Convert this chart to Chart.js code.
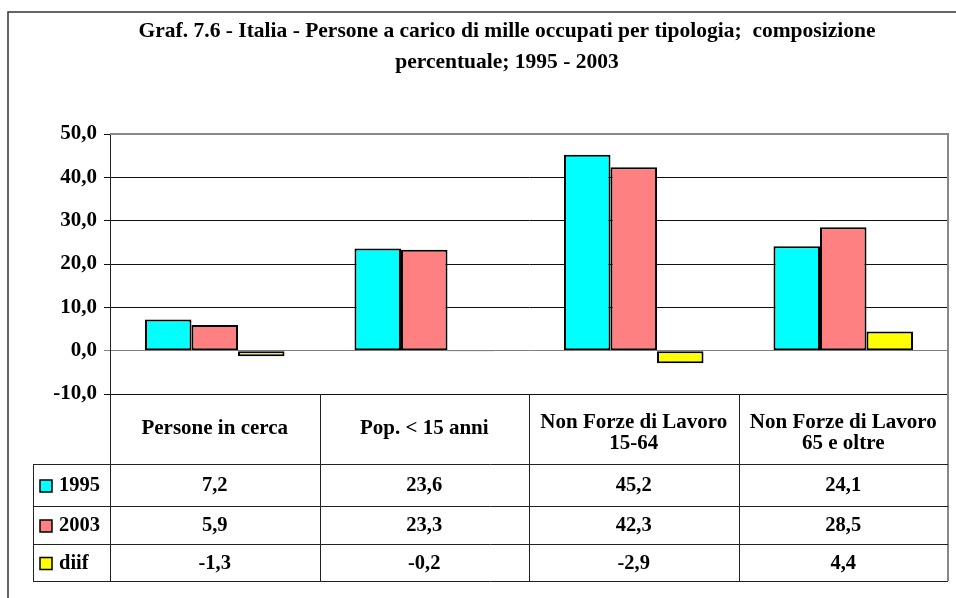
<!DOCTYPE html>
<html>
<head>
<meta charset="utf-8">
<script src="https://cdn.jsdelivr.net/npm/chart.js@4.4.1/dist/chart.umd.min.js"></script>
<style>
  html, body { margin: 0; padding: 0; background: #fff; }
  #chart { display: block; }
</style>
</head>
<body>
<canvas id="chart" width="956" height="598"></canvas>
<script>
// Data
const categories = ["Persone in cerca", "Pop. < 15 anni", ["Non Forze di Lavoro", "15-64"], ["Non Forze di Lavoro", "65 e oltre"]];
const seriesNames = ["1995", "2003", "diif"];
const values1995 = [7.2, 23.6, 45.2, 24.1];
const values2003 = [5.9, 23.3, 42.3, 28.5];
const valuesDiif = [-1.3, -0.2, -2.9, 4.4];
const yMin = -10, yMax = 50, yStep = 10;
const titleLines = ["Graf. 7.6 - Italia - Persone a carico di mille occupati per tipologia;  composizione", "percentuale; 1995 - 2003"];

const colors = ["#00ffff", "#ff8080", "#ffff00"];
const FONT = "'Liberation Serif', 'Times New Roman', serif";

// comma decimals, one digit
function fmt(v) {
  return v.toFixed(1).replace(".", ",");
}

// ===== Frame, title and data table under the plot =====
const tablePlugin = {
  id: "dataTable",
  afterDraw(chart) {
    const ctx = chart.ctx;
    const area = chart.chartArea;
    const x = chart.scales.x;
    const n = categories.length;
    const colW = (area.right - area.left) / n;
    const legendLeft = 33;
    const headerBottom = 464;
    const rowBottoms = [506, 544, 581];
    const seriesValues = [values1995, values2003, valuesDiif];

    ctx.save();

    // outer frame
    ctx.strokeStyle = "#333";
    ctx.lineWidth = 1.5;
    ctx.beginPath();
    ctx.moveTo(8, 700);
    ctx.lineTo(8, 12);
    ctx.lineTo(1000, 12);
    ctx.stroke();

    // title
    ctx.fillStyle = "#000";
    ctx.font = "bold 21.5px " + FONT;
    ctx.textAlign = "center";
    ctx.textBaseline = "middle";
    ctx.fillText(titleLines[0], 507, 31);
    ctx.fillText(titleLines[1], 507, 62);

    // plot border (top and right)
    ctx.strokeStyle = "#888";
    ctx.lineWidth = 2;
    ctx.beginPath();
    ctx.moveTo(area.left, area.top);
    ctx.lineTo(area.right, area.top);
    ctx.lineTo(area.right, rowBottoms[2]);
    ctx.stroke();

    // table lines
    ctx.strokeStyle = "#222";
    ctx.lineWidth = 1;
    ctx.beginPath();
    // left axis continues down the table
    ctx.moveTo(area.left + 0.5, area.bottom);
    ctx.lineTo(area.left + 0.5, rowBottoms[2]);
    for (let i = 1; i < n; i++) {
      const cx = Math.round(area.left + i * colW) + 0.5;
      ctx.moveTo(cx, area.bottom);
      ctx.lineTo(cx, rowBottoms[2]);
    }
    // header bottom and row lines
    [headerBottom].concat(rowBottoms).forEach(y => {
      ctx.moveTo(legendLeft, y + 0.5);
      ctx.lineTo(area.right, y + 0.5);
    });
    // legend column left edge
    ctx.moveTo(legendLeft + 0.5, headerBottom);
    ctx.lineTo(legendLeft + 0.5, rowBottoms[2]);
    ctx.stroke();

    // header labels
    ctx.fillStyle = "#000";
    ctx.font = "bold 21px " + FONT;
    ctx.textAlign = "center";
    ctx.textBaseline = "middle";
    categories.forEach((label, i) => {
      const cx = x.getPixelForValue(i);
      const lines = Array.isArray(label) ? label : [label];
      const mid = (area.bottom + headerBottom) / 2 + (lines.length > 1 ? 4 : 0);
      const lh = 21;
      lines.forEach((t, j) => {
        ctx.fillText(t, cx, mid + (j - (lines.length - 1) / 2) * lh);
      });
    });

    // value rows with legend keys
    let top = headerBottom;
    seriesValues.forEach((vals, r) => {
      const bottom = rowBottoms[r];
      const cy = (top + bottom) / 2 + 1;
      // legend swatch
      ctx.fillStyle = colors[r];
      ctx.fillRect(40, cy - 6, 12, 12);
      ctx.strokeStyle = "#000";
      ctx.lineWidth = 1.5;
      ctx.strokeRect(40, cy - 6, 12, 12);
      ctx.fillStyle = "#000";
      ctx.font = "bold 20.5px " + FONT;
      ctx.textAlign = "left";
      ctx.fillText(seriesNames[r], 59, cy);
      ctx.textAlign = "center";
      vals.forEach((v, i) => {
        ctx.fillText(fmt(v), x.getPixelForValue(i), cy);
      });
      top = bottom;
    });

    ctx.restore();
  }
};

const datasets = [values1995, values2003, valuesDiif].map((vals, i) => ({
  label: seriesNames[i],
  data: vals,
  backgroundColor: colors[i],
  borderColor: "#000",
  borderWidth: 2,
  borderSkipped: false,
  barPercentage: 1.0,
  categoryPercentage: 0.666
}));

new Chart(document.getElementById("chart"), {
  type: "bar",
  data: { labels: categories, datasets: datasets },
  options: {
    responsive: false,
    animation: false,
    layout: { padding: { left: 0, right: 8, top: 134, bottom: 204 } },
    plugins: {
      legend: { display: false },
      title: { display: false },
      tooltip: { enabled: false }
    },
    scales: {
      x: { display: false },
      y: {
        min: yMin,
        max: yMax,
        afterFit(scale) { scale.width = 110; },
        ticks: {
          stepSize: yStep,
          padding: 7,
          color: "#000",
          font: { family: FONT, size: 21, weight: "bold" },
          callback: v => fmt(v)
        },
        grid: {
          color: c => (c.tick && c.tick.value === 0) ? "#808080" : "#111",
          lineWidth: 1,
          tickLength: 6
        },
        border: { display: true, color: "#222", width: 1 }
      }
    }
  },
  plugins: [tablePlugin]
});
</script>
</body>
</html>
